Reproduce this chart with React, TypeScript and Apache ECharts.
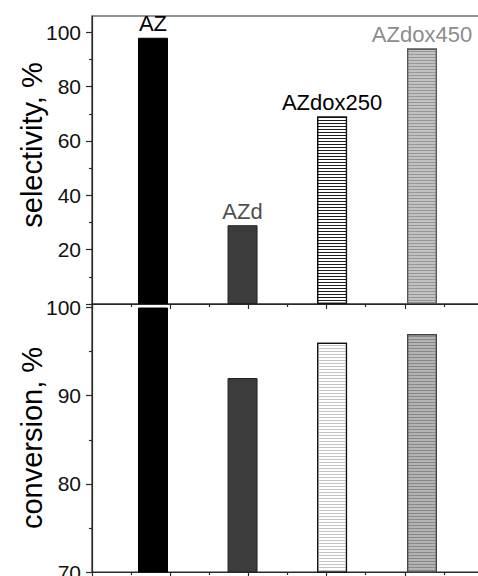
import React, { useEffect, useRef } from "react";
import * as echarts from "echarts";

const categories = ["AZ", "AZd", "AZdox250", "AZdox450"];
const xPositions = [1.56, 3.85, 6.14, 8.44];
const selectivity = [98, 29, 69, 94];
const conversion = [100, 92, 96, 97];
const labelColors = ["#000000", "#4f4f4f", "#000000", "#8c8c8c"];

const selMajorTicks = [0, 20, 40, 60, 80, 100];
const selLabelTicks = [20, 40, 60, 80, 100];
const selMinorTicks = [10, 30, 50, 70, 90];
const convMajorTicks = [70, 80, 90, 100];
const convMinorTicks = [75, 85, 95];

const FONT = "'Liberation Sans', Arial, Helvetica, sans-serif";

const stripe = (color: string) => ({
  symbol: "rect",
  dashArrayX: [1, 0],
  dashArrayY: [1, 2],
  symbolSize: 1,
  rotation: 0,
  color,
});

const topStyles = [
  { color: "#000000", borderColor: "#000000", borderWidth: 1 },
  { color: "#3c3c3c", borderColor: "#222222", borderWidth: 1 },
  { color: "#ffffff", borderColor: "#111111", borderWidth: 1.2, decal: stripe("#1e1e1e") },
  { color: "#c2c2c2", borderColor: "#555555", borderWidth: 1.2, decal: stripe("#969696") },
];
const bottomStyles = [
  { color: "#000000", borderColor: "#000000", borderWidth: 1 },
  { color: "#3c3c3c", borderColor: "#222222", borderWidth: 1 },
  { color: "#ffffff", borderColor: "#111111", borderWidth: 1.2, decal: stripe("#c4c4c4") },
  { color: "#b4b4b4", borderColor: "#444444", borderWidth: 1.2, decal: stripe("#888888") },
];

const AXIS_COLOR = "#2a2a2a";

function xAxisFor(gridIndex: number) {
  return {
    type: "value",
    gridIndex,
    min: 0,
    max: 10,
    interval: 2,
    position: "bottom",
    axisLine: { show: true, lineStyle: { color: AXIS_COLOR, width: 1.2 } },
    axisTick: { show: true, inside: false, length: 5, lineStyle: { color: AXIS_COLOR, width: 1.2 } },
    minorTick: { show: true, splitNumber: 2, length: 3, lineStyle: { color: AXIS_COLOR, width: 1.2 } },
    axisLabel: { show: false },
    splitLine: { show: false },
    minorSplitLine: { show: false },
  };
}

function yAxisPair(
  gridIndex: number,
  min: number,
  max: number,
  major: number[],
  labels: number[],
  minor: number[],
  interval: number
) {
  return [
    {
      type: "value",
      gridIndex,
      min,
      max,
      interval,
      position: "left",
      axisLine: { show: true, lineStyle: { color: AXIS_COLOR, width: 1.2 } },
      axisTick: { show: true, inside: false, length: 6, customValues: major, lineStyle: { color: AXIS_COLOR, width: 1.2 } },
      axisLabel: {
        show: true,
        customValues: labels,
        fontSize: 21,
        fontFamily: FONT,
        color: "#111111",
        margin: 11,
      },
      splitLine: { show: false },
    },
    {
      type: "value",
      gridIndex,
      min,
      max,
      interval: interval / 2,
      position: "left",
      offset: 0,
      axisLine: { show: false },
      axisTick: { show: true, inside: false, length: 3, customValues: minor, lineStyle: { color: AXIS_COLOR, width: 1.2 } },
      axisLabel: { show: false },
      splitLine: { show: false },
    },
  ];
}

export default function App() {
  const ref = useRef<HTMLDivElement>(null);

  useEffect(() => {
    document.body.style.margin = "0";
    if (!ref.current) return;
    const chart = echarts.init(ref.current, null, { renderer: "svg" });

    const option = {
      animation: false,
      backgroundColor: "#ffffff",
      textStyle: { fontFamily: FONT },
      grid: [
        {
          left: 92, right: -5, top: 16, height: 288,
          outerBoundsMode: "none", containLabel: false,
          show: true, borderColor: AXIS_COLOR, borderWidth: 1.2, backgroundColor: "transparent",
        },
        {
          left: 92, right: -5, top: 304, height: 268,
          outerBoundsMode: "none", containLabel: false,
          show: true, borderColor: AXIS_COLOR, borderWidth: 1.2, backgroundColor: "transparent",
        },
      ],
      xAxis: [xAxisFor(0), xAxisFor(1)],
      yAxis: [
        ...yAxisPair(0, 0, 106, selMajorTicks, selLabelTicks, selMinorTicks, 20),
        ...yAxisPair(1, 70, 100.4, convMajorTicks, convMajorTicks, convMinorTicks, 10),
      ],
      graphic: [
        {
          type: "text",
          x: 32,
          y: 145,
          rotation: Math.PI / 2,
          style: {
            text: "selectivity, %",
            fontSize: 29,
            fontFamily: FONT,
            fill: "#000000",
            align: "center",
            verticalAlign: "middle",
          },
        },
        {
          type: "text",
          x: 32,
          y: 438,
          rotation: Math.PI / 2,
          style: {
            text: "conversion, %",
            fontSize: 29,
            fontFamily: FONT,
            fill: "#000000",
            align: "center",
            verticalAlign: "middle",
          },
        },
      ],
      series: [
        {
          type: "bar",
          xAxisIndex: 0,
          yAxisIndex: 0,
          barWidth: 30,
          data: categories.map((c, i) => ({
            name: c,
            value: [xPositions[i], selectivity[i]],
            itemStyle: topStyles[i],
            label: {
              show: true,
              position: "top",
              distance: 3,
              formatter: c,
              color: labelColors[i],
              fontSize: 22,
              fontFamily: FONT,
            },
          })),
        },
        {
          type: "bar",
          xAxisIndex: 1,
          yAxisIndex: 2,
          barWidth: 30,
          data: categories.map((c, i) => ({
            name: c,
            value: [xPositions[i], conversion[i]],
            itemStyle: bottomStyles[i],
          })),
        },
      ],
    };

    chart.setOption(option as any);
    return () => chart.dispose();
  }, []);

  return (
    <div
      ref={ref}
      style={{ position: "absolute", left: 0, top: 0, width: 478, height: 576 }}
    />
  );
}
